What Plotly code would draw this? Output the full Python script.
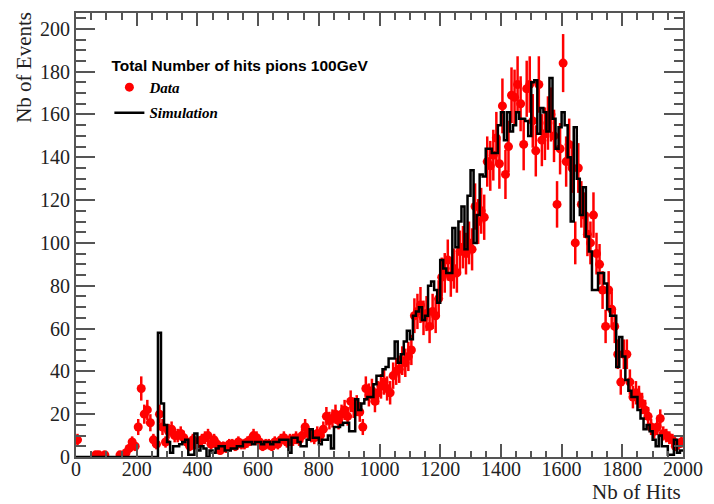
import numpy as np
import plotly.graph_objects as go

# Histogram binning: 200 bins of 10 hits between 0 and 2000
BIN_WIDTH = 10
X_MIN, X_MAX = 0, 2000

# Measured events per bin (data), bins 0-10, 10-20, ... 1990-2000
data_counts = [
    8, 0, 0, 0, 0, 0, 1, 1, 0, 1,            # 0-100
    0, 0, 0, 0, 1, 0, 2, 4, 7, 5,            # 100-200
    14, 32, 20, 22, 16, 8, 6, 20, 14, 7,     # 200-300
    12, 13, 10, 10, 11, 9, 7, 5, 8, 6,       # 300-400
    7, 8, 9, 10, 6, 8, 6, 3, 5, 4,           # 400-500
    6, 6, 5, 7, 6, 6, 7, 8, 10, 9,           # 500-600
    7, 5, 6, 6, 5, 7, 6, 8, 9, 7,            # 600-700
    8, 8, 9, 8, 10, 14, 11, 10, 9, 11,       # 700-800
    10, 13, 19, 17, 18, 20, 17, 20, 22, 19,  # 800-900
    26, 23, 24, 21, 14, 32, 29, 31, 26, 30,  # 900-1000
    33, 35, 32, 30, 38, 40, 41, 45, 44, 47,  # 1000-1100
    50, 66, 68, 71, 65, 67, 61, 68, 66, 74,  # 1100-1200
    84, 86, 92, 84, 88, 86, 96, 98, 95, 100, # 1200-1300
    97, 117, 110, 115, 112, 138, 136, 141, 149, 137,   # 1300-1400
    164, 132, 145, 169, 168, 174, 165, 146, 172, 174,  # 1400-1500
    157, 143, 174, 148, 151, 156, 160, 150, 118, 144,  # 1500-1600
    184, 138, 146, 135, 100, 135, 118, 113, 104, 100,  # 1600-1700
    113, 95, 90, 78, 61, 78, 69, 61, 48, 35,           # 1700-1800
    48, 48, 35, 28, 30, 28, 25, 22, 19, 14,            # 1800-1900
    12, 14, 18, 11, 10, 9, 8, 5, 6, 7,                 # 1900-2000
]

# Simulated events per bin, same binning
sim_counts = [
    0, 0, 0, 0, 0, 0, 0, 0, 0, 0,            # 0-100
    0, 0, 0, 0, 0, 0, 0, 0, 0, 0,            # 100-200
    0, 0, 0, 0, 0, 0, 0, 58, 25, 15,         # 200-300
    7, 2, 5, 5, 6, 7, 8, 1, 1, 11,           # 300-400
    3, 5, 4, 0, 3, 2, 4, 5, 5, 3,            # 400-500
    3, 4, 4, 5, 5, 7, 7, 7, 6, 7,            # 500-600
    7, 6, 7, 7, 6, 7, 7, 8, 8, 8,            # 600-700
    2, 9, 9, 7, 5, 5, 8, 13, 9, 9,           # 700-800
    6, 8, 8, 10, 4, 14, 14, 15, 16, 16,      # 800-900
    12, 12, 27, 22, 25, 27, 28, 28, 34, 38,  # 900-1000
    38, 41, 42, 46, 46, 54, 44, 48, 54, 59,  # 1000-1100
    55, 66, 68, 70, 64, 66, 80, 82, 78, 72,  # 1100-1200
    92, 88, 86, 86, 107, 98, 110, 117, 97, 122,        # 1200-1300
    134, 100, 113, 132, 131, 144, 144, 142, 142, 155,  # 1300-1400
    161, 148, 161, 152, 155, 161, 158, 158, 157, 150,  # 1400-1500
    175, 176, 151, 163, 161, 152, 177, 158, 144, 154,  # 1500-1600
    161, 155, 140, 110, 154, 130, 113, 126, 103, 96,   # 1600-1700
    78, 78, 86, 86, 81, 69, 66, 66, 42, 56,            # 1700-1800
    47, 36, 31, 28, 28, 22, 18, 13, 15, 12,            # 1800-1900
    8, 5, 10, 5, 5, 1, 1, 8, 2, 3,                     # 1900-2000
]

LEGEND_TITLE = "Total Number of hits pions 100GeV"
X_TITLE = "Nb of Hits"
Y_TITLE = "Nb of Events"

edges = np.arange(X_MIN, X_MAX + BIN_WIDTH, BIN_WIDTH)
centers = edges[:-1] + BIN_WIDTH / 2
data = np.array(data_counts, dtype=float)
sim = np.array(sim_counts, dtype=float)

# Empty data bins are not drawn
filled = data > 0

SERIF = "Liberation Serif"
SANS = "Liberation Sans"
FRAME = "#555555"

fig = go.Figure()

fig.add_trace(go.Scatter(
    x=centers[filled], y=data[filled],
    mode="markers",
    marker=dict(color="#ff0000", size=9, line=dict(width=0)),
    error_y=dict(type="data", array=np.sqrt(data[filled]),
                 color="#ff0000", thickness=2.5, width=0),
    name="<b><i>Data</i></b>",
    legendgroup="data",
))

# Simulation drawn as a step outline over the bin edges
fig.add_trace(go.Scatter(
    x=edges, y=np.append(sim, sim[-1]),
    mode="lines",
    line=dict(shape="hv", color="black", width=2.5),
    name="<b><i>Simulation</i></b>",
    legendgroup="sim",
))

axis_common = dict(
    showgrid=False, zeroline=False,
    showline=True, linecolor=FRAME, linewidth=2,
    mirror="ticks", ticks="inside", tickcolor=FRAME, tickwidth=1.5,
    tickfont=dict(family=SERIF, size=20, color="#222222"),
)

fig.update_xaxes(
    range=[X_MIN, X_MAX], dtick=200, ticklen=13,
    ticklabelstandoff=-7,
    minor=dict(dtick=50, ticklen=6.5, ticks="inside", tickcolor=FRAME, tickwidth=1.5),
    **axis_common,
)
fig.update_yaxes(
    range=[0, 207.4], dtick=20, ticklen=19,
    minor=dict(dtick=5, ticklen=9.5, ticks="inside", tickcolor=FRAME, tickwidth=1.5),
    **axis_common,
)

fig.update_layout(
    width=714, height=504,
    margin=dict(l=76, r=24, t=11, b=47),
    paper_bgcolor="white", plot_bgcolor="white",
    showlegend=True,
    legend=dict(
        x=0.055, y=0.915, xanchor="left", yanchor="top",
        bgcolor="rgba(0,0,0,0)",
        font=dict(family=SERIF, size=15, color="black"),
        title=dict(text="<b>" + LEGEND_TITLE + "</b>",
                   font=dict(family=SANS, size=15.5, color="black")),
        traceorder="grouped", tracegroupgap=3,
    ),
    annotations=[
        dict(text=Y_TITLE, textangle=-90, xref="paper", yref="paper",
             x=-0.085, y=1.007, xanchor="center", yanchor="top",
             showarrow=False, font=dict(family=SERIF, size=21, color="#222222")),
        dict(text=X_TITLE, xref="paper", yref="paper",
             x=1.0, y=-0.078, xanchor="right", yanchor="middle",
             showarrow=False, font=dict(family=SERIF, size=21, color="#222222")),
    ],
)

fig.write_html("out.html")
